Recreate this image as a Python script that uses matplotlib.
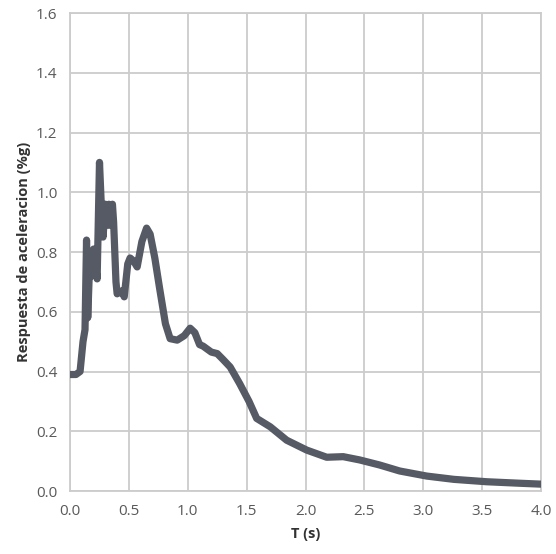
"""Espectro de respuesta de aceleracion vs periodo T."""
import matplotlib
matplotlib.use('Agg')
import matplotlib.pyplot as plt
import numpy as np

plt.rcParams['font.family'] = ['Open Sans', 'DejaVu Sans']

# Periodo (s) y respuesta (%g)
periodo = [0.0, 0.05, 0.085, 0.11, 0.127, 0.14, 0.15, 0.17, 0.185, 0.20, 0.23,
           0.25, 0.265, 0.28, 0.30, 0.32, 0.33, 0.34, 0.36, 0.37, 0.39, 0.40,
           0.44, 0.46, 0.49, 0.51, 0.54, 0.57, 0.61, 0.65, 0.68, 0.72, 0.76,
           0.81, 0.85, 0.91, 0.97, 1.02, 1.06, 1.10, 1.13, 1.20, 1.25, 1.30,
           1.36, 1.44, 1.52, 1.585, 1.70, 1.84, 2.01, 2.18, 2.32, 2.46, 2.63,
           2.80, 3.03, 3.26, 3.54, 3.82, 4.0]
respuesta = [0.39, 0.39, 0.40, 0.50, 0.54, 0.84, 0.58, 0.80, 0.72, 0.81, 0.71,
             1.10, 0.96, 0.85, 0.96, 0.89, 0.96, 0.89, 0.96, 0.90, 0.70, 0.66,
             0.67, 0.65, 0.76, 0.78, 0.77, 0.75, 0.835, 0.88, 0.86, 0.78, 0.68,
             0.56, 0.51, 0.505, 0.52, 0.545, 0.53, 0.49, 0.485, 0.465, 0.46, 0.44,
             0.415, 0.36, 0.30, 0.243, 0.215, 0.17, 0.137, 0.113, 0.115, 0.104, 0.087,
             0.067, 0.05, 0.039, 0.031, 0.026, 0.023]

xticks = np.arange(0, 4.01, 0.5)
yticks = np.arange(0, 1.61, 0.2)

fig = plt.figure(figsize=(5.56, 5.54), dpi=100)
ax = fig.add_axes([0.126, 0.1137, 0.847, 0.8628])

ax.plot(periodo, respuesta, color='#555a64', linewidth=5.2,
        solid_joinstyle='round', solid_capstyle='round', zorder=3)

ax.set_xlim(0, 4)
ax.set_ylim(0, 1.6)
ax.set_xticks(xticks)
ax.set_yticks(yticks)
ax.set_xticklabels([f'{t:.1f}' for t in xticks])
ax.set_yticklabels([f'{t:.1f}' for t in yticks])
ax.grid(True, color='#cccccc', linewidth=1.3)
ax.set_axisbelow(True)
for s in ax.spines.values():
    s.set_color('#cccccc')
    s.set_linewidth(1.3)
ax.tick_params(length=0, labelsize=11, labelcolor='#595959', pad=9)

ax.set_xlabel('T (s)', fontsize=10.5, fontweight='bold', color='#333333', labelpad=6)
ax.set_ylabel('Respuesta de aceleracion (%g)', fontsize=10.5, fontweight='bold',
              color='#333333', labelpad=4)

fig.savefig('out.png', dpi=100, facecolor='white')
plt.close()
